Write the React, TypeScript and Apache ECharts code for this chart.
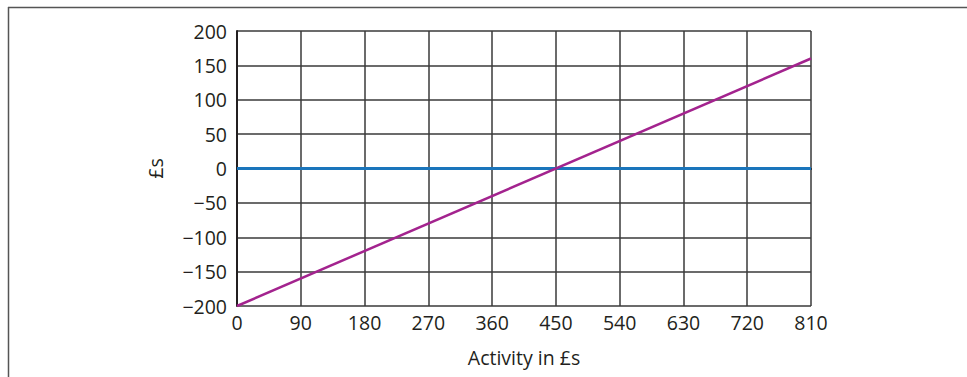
import React, { useEffect, useRef } from "react";
import * as echarts from "echarts";

const xTicks = { min: 0, max: 810, step: 90 };
const yTicks = { min: -200, max: 200, step: 50 };
const breakEvenLine: [number, number][] = [
  [0, 0],
  [810, 0],
];
const profitLine: [number, number][] = [
  [0, -200],
  [810, 160],
];
const xTitle = "Activity in £s";
const yTitle = "£s";

const FONT = "'Open Sans', 'Noto Sans', sans-serif";
const FS = 19.5;

export default function App() {
  const ref = useRef<HTMLDivElement>(null);

  useEffect(() => {
    if (!ref.current) return;
    const chart = echarts.init(ref.current, null, { renderer: "svg" });
    chart.setOption({
      animation: false,
      backgroundColor: "#ffffff",
      textStyle: { fontFamily: FONT },
      grid: { left: 237, right: 156, top: 31, bottom: 71, containLabel: false },
      xAxis: {
        type: "value",
        min: xTicks.min,
        max: xTicks.max,
        interval: xTicks.step,
        name: xTitle,
        nameLocation: "middle",
        nameGap: 41,
        nameTextStyle: { fontSize: FS, color: "#231f20", fontFamily: FONT },
        axisLine: { show: true, lineStyle: { color: "#231f20", width: 2 } },
        axisTick: { show: false },
        axisLabel: { fontSize: FS, color: "#231f20", margin: 6, fontFamily: FONT },
        splitLine: { show: true, lineStyle: { color: "#3a3a3a", width: 1.5 } },
      },
      yAxis: {
        type: "value",
        min: yTicks.min,
        max: yTicks.max,
        interval: yTicks.step,
        name: yTitle,
        nameLocation: "middle",
        nameGap: 72,
        nameRotate: 90,
        nameTextStyle: { fontSize: FS, color: "#231f20", fontFamily: FONT },
        axisLine: { show: true, lineStyle: { color: "#231f20", width: 2 } },
        axisTick: { show: false },
        axisLabel: {
          fontSize: FS,
          color: "#231f20",
          margin: 10,
          fontFamily: FONT,
          formatter: (v: number) => (v < 0 ? "\u2212" + Math.abs(v) : String(v)),
        },
        splitLine: { show: true, lineStyle: { color: "#3a3a3a", width: 1.5 } },
      },
      graphic: [
        {
          type: "line",
          shape: { x1: 8, y1: 7.5, x2: 967, y2: 7.5 },
          style: { stroke: "#555555", lineWidth: 1.5 },
        },
        {
          type: "line",
          shape: { x1: 8.5, y1: 7, x2: 8.5, y2: 377 },
          style: { stroke: "#555555", lineWidth: 1.5 },
        },
      ],
      series: [
        {
          type: "line",
          data: breakEvenLine,
          symbol: "none",
          lineStyle: { color: "#1a75bb", width: 3 },
          z: 3,
        },
        {
          type: "line",
          data: profitLine,
          symbol: "none",
          lineStyle: { color: "#a3238e", width: 2.5 },
          z: 4,
        },
      ],
    });
    return () => chart.dispose();
  }, []);

  return (
    <div
      ref={ref}
      style={{ position: "fixed", left: 0, top: 0, width: 967, height: 377 }}
    />
  );
}
